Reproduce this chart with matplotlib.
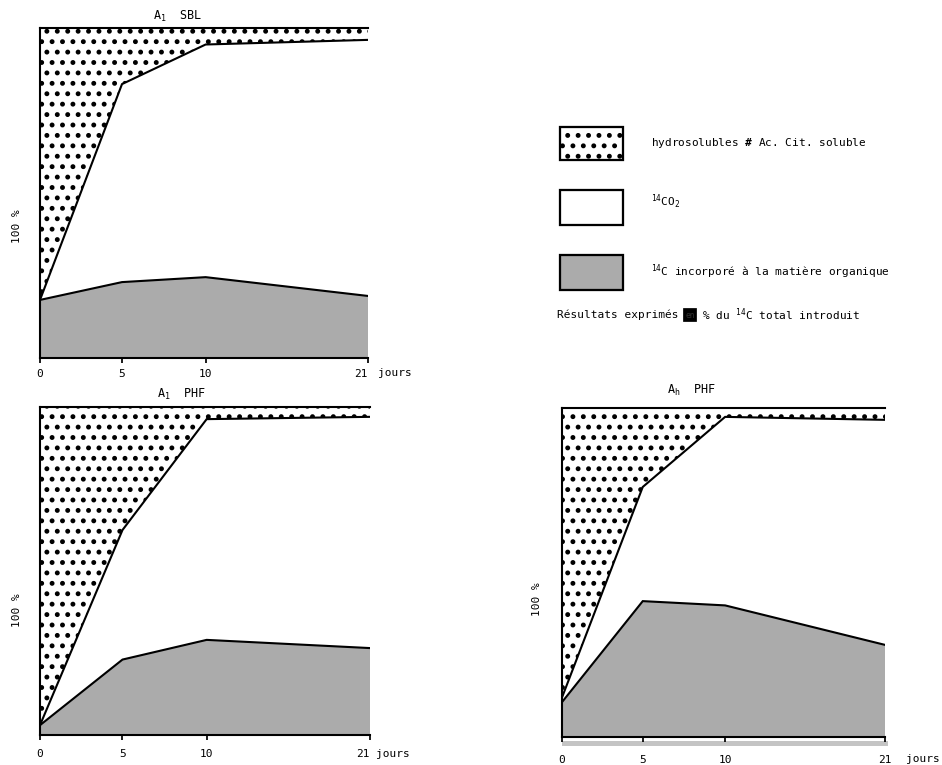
import numpy as np
import matplotlib
matplotlib.use("Agg")
import matplotlib.pyplot as plt
from matplotlib.patches import Rectangle

# ---------------- data ----------------
days = [0, 5, 10, 21]
tick_days = [0, 5, 10, 21]
tick_labels = ["0", "5", "10", "21"]

# A1 SBL  (% of total 14C introduced)
sbl_organic = [17.6, 23.0, 24.5, 18.8]
sbl_co2 = [0.0, 60.0, 70.5, 77.6]
sbl_hydro = [82.4, 17.0, 5.0, 3.6]

# A1 PHF
a1phf_organic = [3.0, 23.0, 29.0, 26.5]
a1phf_co2 = [0.0, 39.5, 67.3, 70.5]
a1phf_hydro = [97.0, 37.5, 3.7, 3.0]

# Ah PHF
ahphf_organic = [10.6, 41.3, 40.0, 28.0]
ahphf_co2 = [1.4, 34.7, 57.3, 68.4]
ahphf_hydro = [88.0, 24.0, 2.7, 3.6]

titles = [r"A$_1$  SBL", r"A$_1$  PHF", r"A$_h$  PHF"]
ylabel = "100 %"
xunit = "jours"
legend_labels = [r"hydrosolubles $\mathbf{\#}$ Ac. Cit. soluble",
                 r"$^{14}$CO$_2$",
                 r"$^{14}$C incorporé à la matière organique"]
note_parts = ["Résultats exprimés", "en", r"% du $^{14}$C total introduit"]

# ---------------- style ----------------
W, H, DPI = 942, 765, 125
GRAY = "#ababab"
FS = 6.4
plt.rcParams["font.family"] = ["DejaVu Sans Mono", "DejaVu Sans"]
plt.rcParams["mathtext.fontset"] = "custom"
plt.rcParams["mathtext.rm"] = "DejaVu Sans Mono"
plt.rcParams["mathtext.it"] = "DejaVu Sans Mono"
plt.rcParams["mathtext.bf"] = "DejaVu Sans Mono:bold"
plt.rcParams["hatch.linewidth"] = 1.6
plt.rcParams["font.size"] = FS

fig = plt.figure(figsize=(W / DPI, H / DPI), dpi=DPI)

scale_days = [0, 5, 10, 21]
scale_pos = [0.0, 0.25, 0.505, 1.0]


def fwd(x):
    return np.interp(x, scale_days, scale_pos)


def inv(y):
    return np.interp(y, scale_pos, scale_days)


def px_axes(l, r, t, b):
    return fig.add_axes([l / W, 1 - b / H, (r - l) / W, (b - t) / H])


def panel(ax, organic, co2, hydro, title, title_x, title_dy, ylab_x, ylab_y,
          pad, jours_dx, last_right):
    org = np.array(organic)
    c = np.array(co2)
    h = np.array(hydro)
    polys = ax.stackplot(days, org, c, h, colors=[GRAY, "white", "white"],
                         linewidth=0)
    polys[2].set_hatch("..")
    polys[2].set_edgecolor("black")
    polys[2].set_linewidth(0)
    polys[0].set_linewidth(0)
    ax.plot(days, org, color="black", lw=1.2, solid_joinstyle="miter")
    ax.plot(days, org + c, color="black", lw=1.2, solid_joinstyle="miter")
    ax.set_xscale("function", functions=(fwd, inv))
    ax.set_xlim(0, 21)
    ax.set_ylim(0, 100)
    ax.set_yticks([])
    ax.set_xticks(tick_days)
    ax.set_xticklabels(tick_labels)
    ax.minorticks_off()
    ax.tick_params(axis="x", length=3, width=1.0, pad=pad, labelsize=FS)
    if last_right:
        ax.get_xticklabels()[-1].set_horizontalalignment("right")
    for s in ["left", "top", "bottom"]:
        ax.spines[s].set_linewidth(1.2)
    ax.spines["right"].set_visible(False)
    ax.text(title_x, 1 + title_dy, title, transform=ax.transAxes,
            ha="center", va="center", fontsize=6.8)
    ax.text(ylab_x, ylab_y, ylabel, transform=ax.transAxes, rotation=90,
            ha="center", va="center", fontsize=FS)
    ax.annotate(xunit, xy=(1, 0), xycoords="axes fraction",
                xytext=(jours_dx, -(pad + 5.5)), textcoords="offset points",
                ha="left", va="center", fontsize=FS, annotation_clip=False)


ax1 = px_axes(40, 368, 28, 358)
panel(ax1, sbl_organic, sbl_co2, sbl_hydro, titles[0], 0.42, 12 / 330,
      -0.07, 0.40, 3.2, 5.5, True)

ax2 = px_axes(40, 370, 407, 735)
panel(ax2, a1phf_organic, a1phf_co2, a1phf_hydro, titles[1], 0.43, 13 / 328,
      -0.07, 0.38, 5.2, 3.5, True)

ax3 = px_axes(562, 885, 408, 737)
panel(ax3, ahphf_organic, ahphf_co2, ahphf_hydro, titles[2], 0.40, 18 / 329,
      -0.078, 0.42, 7.2, 12, False)
ax3.add_patch(Rectangle((0, -0.026), 1.01, 0.013, transform=ax3.transAxes,
                        facecolor="#c4c4c4", edgecolor="none", clip_on=False))

# ---------------- legend (figure coords) ----------------
boxes = [(127, 160), (190, 225), (255, 290)]
fills = ["white", "white", GRAY]
hatches = ["..", None, None]
text_dy = [0, -6, -1]
for i, (t, b) in enumerate(boxes):
    rect = Rectangle((560 / W, 1 - b / H), 63 / W, (b - t) / H,
                     transform=fig.transFigure, linewidth=1.3,
                     edgecolor="black", facecolor=fills[i], hatch=hatches[i])
    fig.add_artist(rect)
    fig.text(651 / W, 1 - ((t + b) / 2 + text_dy[i]) / H, legend_labels[i],
             ha="left", va="center", fontsize=FS)

t1 = fig.text(557 / W, 1 - 315 / H, note_parts[0], ha="left", va="center",
              fontsize=FS)
t2 = ax1.annotate(note_parts[1], xy=(1, 0.5), xycoords=t1, xytext=(4, 0),
                  textcoords="offset points", ha="left", va="center",
                  fontsize=4.5, color="#333333", annotation_clip=False,
                  bbox=dict(facecolor="black", edgecolor="black", pad=0.8))
t3 = ax1.annotate(note_parts[2], xy=(1, 0.5), xycoords=t2, xytext=(4, 0),
                  textcoords="offset points", ha="left", va="center",
                  fontsize=FS, annotation_clip=False)

fig.savefig("out.png", dpi=DPI)
